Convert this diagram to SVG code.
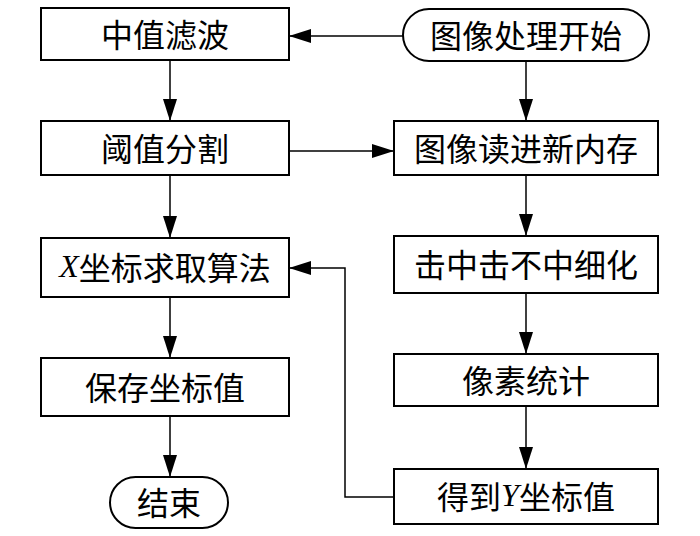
<svg xmlns="http://www.w3.org/2000/svg" width="700" height="536" viewBox="0 0 700 536">
<style>
.b{fill:#fff;stroke:#000;stroke-width:2}
.t{font-family:"Noto Sans CJK SC","Liberation Serif",serif;font-size:32px;text-anchor:middle;dominant-baseline:central;fill:#000}
.i{font-family:"Liberation Serif",serif;font-style:italic}
.c{fill:none;stroke:#000;stroke-width:1.5;marker-end:url(#a)}
</style>
<defs>
<marker id="a" markerUnits="userSpaceOnUse" markerWidth="22" markerHeight="14" refX="22" refY="7" orient="auto">
<path d="M0,0L22,7L0,14Z" fill="#000"/>
</marker>
</defs>
<rect width="700" height="536" fill="#fff"/>
<g id="connectors">
<path class="c" d="M403,36H289"/>
<path class="c" d="M170,60V121"/>
<path class="c" d="M526,61V121"/>
<path class="c" d="M289,151H394"/>
<path class="c" d="M170,175V238"/>
<path class="c" d="M526,175V236"/>
<path class="c" d="M170,297V358"/>
<path class="c" d="M526,293V354"/>
<path class="c" d="M170,416V477"/>
<path class="c" d="M526,406V469"/>
<path class="c" d="M394,497H345V268H289"/>
</g>
<g id="n1"><rect class="b" x="41" y="8" width="248" height="52"/><text class="t" x="165" y="33">中值滤波</text></g>
<g id="n2"><rect class="b" x="41" y="121" width="248" height="54"/><text class="t" x="165" y="147">阈值分割</text></g>
<g id="n3"><rect class="b" x="41" y="238" width="248" height="59"/><text class="t" x="165" y="266"><tspan class="i">X</tspan>坐标求取算法</text></g>
<g id="n4"><rect class="b" x="41" y="358" width="248" height="58"/><text class="t" x="165" y="386">保存坐标值</text></g>
<g id="n5"><rect class="b" x="110" y="477" width="118" height="51" rx="25.5"/><text class="t" x="169" y="501">结束</text></g>
<g id="s"><rect class="b" x="403" y="9" width="246" height="52" rx="26"/><text class="t" x="526" y="34">图像处理开始</text></g>
<g id="r1"><rect class="b" x="394" y="121" width="264" height="54"/><text class="t" x="526" y="147">图像读进新内存</text></g>
<g id="r2"><rect class="b" x="394" y="236" width="264" height="57"/><text class="t" x="526" y="263">击中击不中细化</text></g>
<g id="r3"><rect class="b" x="394" y="354" width="264" height="52"/><text class="t" x="526" y="379">像素统计</text></g>
<g id="r4"><rect class="b" x="394" y="469" width="264" height="55"/><text class="t" x="526" y="495">得到<tspan class="i">Y</tspan>坐标值</text></g>
</svg>
